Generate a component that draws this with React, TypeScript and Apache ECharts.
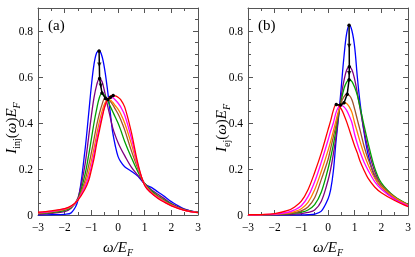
import React, { useEffect, useRef } from 'react';
import * as echarts from 'echarts';

// ---------- data ----------
const xTicks = [-3, -2, -1, 0, 1, 2, 3];
const yTicks = [0, 0.2, 0.4, 0.6, 0.8];

// panel (a): injection spectra
const xA = [-3, -2.5, -2, -1.75, -1.5, -1.25, -1.1, -1, -0.9, -0.8, -0.7, -0.6, -0.5, -0.4, -0.3, -0.2, -0.1, 0, 0.1, 0.25, 0.5, 0.75, 1, 1.25, 1.5, 1.75, 2, 2.5, 3];
const blueA = [0, 0.001, 0.003, 0.01, 0.065, 0.27, 0.44, 0.56, 0.655, 0.705, 0.713, 0.69, 0.633, 0.55, 0.455, 0.36, 0.3, 0.255, 0.232, 0.21, 0.19, 0.168, 0.135, 0.12, 0.1, 0.08, 0.058, 0.026, 0.012];
const purpleA = [0.003, 0.007, 0.015, 0.03, 0.075, 0.21, 0.34, 0.43, 0.51, 0.565, 0.593, 0.58, 0.535, 0.48, 0.43, 0.38, 0.345, 0.315, 0.29, 0.258, 0.208, 0.172, 0.137, 0.11, 0.09, 0.07, 0.05, 0.024, 0.011];
const greenA = [0.006, 0.01, 0.02, 0.033, 0.07, 0.17, 0.26, 0.33, 0.4, 0.46, 0.51, 0.53, 0.52, 0.5, 0.475, 0.45, 0.425, 0.4, 0.37, 0.32, 0.25, 0.187, 0.137, 0.105, 0.083, 0.064, 0.047, 0.022, 0.011];
const brownA = [0.008, 0.013, 0.023, 0.035, 0.068, 0.145, 0.215, 0.27, 0.33, 0.39, 0.44, 0.48, 0.505, 0.505, 0.495, 0.48, 0.46, 0.44, 0.415, 0.37, 0.28, 0.2, 0.135, 0.1, 0.08, 0.061, 0.045, 0.021, 0.011];
const orangeA = [0.009, 0.015, 0.025, 0.037, 0.067, 0.13, 0.185, 0.235, 0.29, 0.35, 0.405, 0.45, 0.485, 0.5, 0.5, 0.49, 0.475, 0.46, 0.44, 0.4, 0.31, 0.208, 0.133, 0.098, 0.077, 0.058, 0.043, 0.02, 0.01];
const magentaA = [0.01, 0.016, 0.027, 0.038, 0.066, 0.12, 0.165, 0.21, 0.265, 0.325, 0.38, 0.43, 0.47, 0.5, 0.512, 0.51, 0.5, 0.487, 0.47, 0.435, 0.335, 0.215, 0.13, 0.096, 0.074, 0.056, 0.041, 0.02, 0.01];
const redA = [0.012, 0.018, 0.028, 0.04, 0.065, 0.11, 0.15, 0.195, 0.245, 0.31, 0.365, 0.42, 0.47, 0.5, 0.515, 0.52, 0.518, 0.512, 0.502, 0.47, 0.36, 0.222, 0.128, 0.095, 0.072, 0.055, 0.04, 0.02, 0.01];
const peakXA = [-0.71, -0.69, -0.6, -0.47, -0.38, -0.28, -0.18];
const peakYA = [0.713, 0.593, 0.53, 0.507, 0.502, 0.512, 0.52];

// panel (b): ejection spectra
const xB = [-3, -2.5, -2, -1.5, -1.25, -1, -0.75, -0.5, -0.25, 0, 0.1, 0.2, 0.3, 0.4, 0.5, 0.6, 0.7, 0.8, 0.9, 1, 1.1, 1.2, 1.35, 1.5, 1.75, 2, 2.5, 3];
const blueB = [0, 0, 0, 0, 0, 0, 0.001, 0.004, 0.017, 0.07, 0.11, 0.19, 0.32, 0.43, 0.56, 0.69, 0.79, 0.825, 0.8, 0.73, 0.6, 0.49, 0.36, 0.265, 0.165, 0.12, 0.07, 0.042];
const purpleB = [0, 0, 0.001, 0.002, 0.004, 0.006, 0.011, 0.022, 0.06, 0.15, 0.2, 0.265, 0.34, 0.435, 0.52, 0.585, 0.63, 0.645, 0.63, 0.59, 0.53, 0.465, 0.37, 0.29, 0.19, 0.13, 0.075, 0.045];
const greenB = [0, 0.001, 0.002, 0.005, 0.008, 0.012, 0.022, 0.045, 0.1, 0.2, 0.25, 0.305, 0.37, 0.44, 0.5, 0.55, 0.578, 0.588, 0.58, 0.555, 0.52, 0.47, 0.39, 0.315, 0.205, 0.14, 0.08, 0.046];
const brownB = [0, 0.001, 0.002, 0.006, 0.01, 0.018, 0.035, 0.075, 0.155, 0.24, 0.29, 0.34, 0.39, 0.445, 0.49, 0.515, 0.525, 0.52, 0.5, 0.46, 0.415, 0.37, 0.3, 0.245, 0.175, 0.13, 0.078, 0.045];
const orangeB = [0, 0.001, 0.003, 0.008, 0.015, 0.027, 0.055, 0.11, 0.19, 0.28, 0.32, 0.365, 0.41, 0.455, 0.478, 0.488, 0.485, 0.47, 0.445, 0.4, 0.36, 0.32, 0.265, 0.22, 0.16, 0.122, 0.075, 0.043];
const magentaB = [0, 0.001, 0.004, 0.012, 0.022, 0.04, 0.08, 0.145, 0.23, 0.325, 0.365, 0.4, 0.445, 0.47, 0.477, 0.47, 0.455, 0.43, 0.4, 0.35, 0.31, 0.275, 0.23, 0.195, 0.145, 0.112, 0.068, 0.04];
const redB = [0.001, 0.002, 0.006, 0.02, 0.035, 0.06, 0.11, 0.185, 0.27, 0.37, 0.41, 0.455, 0.48, 0.475, 0.46, 0.435, 0.405, 0.37, 0.335, 0.3, 0.27, 0.235, 0.195, 0.16, 0.122, 0.097, 0.063, 0.036];
const peakXB = [0.79, 0.8, 0.79, 0.72, 0.6, 0.47, 0.31];
const peakYB = [0.825, 0.645, 0.588, 0.525, 0.488, 0.478, 0.48];

const colors = ['#0000ff', '#800080', '#00a000', '#a0522d', '#ff8000', '#ff00ff', '#ff0000'];

const SERIF = 'Liberation Serif';
const FRAME = '#555555';

function fmtX(v: number) {
  return String(Math.round(v)).replace('-', '\u2212');
}
function fmtY(v: number) {
  if (!yTicks.some((t) => Math.abs(t - v) < 1e-6)) return '';
  return String(Number(v.toFixed(1)));
}

function mkX(gridIndex: number, position: 'bottom' | 'top', label: boolean) {
  return {
    type: 'value',
    gridIndex,
    position,
    min: xTicks[0],
    max: xTicks[xTicks.length - 1],
    interval: 1,
    axisLine: { show: true, onZero: false, lineStyle: { color: FRAME, width: 1 } },
    axisTick: { show: true, inside: true, length: 5, lineStyle: { color: FRAME, width: 1 } },
    minorTick: { show: true, splitNumber: 2, length: 3, lineStyle: { color: FRAME, width: 1 } },
    splitLine: { show: false },
    axisLabel: { show: label, color: '#000', fontFamily: SERIF, fontSize: 11.5, margin: 6, formatter: fmtX },
  };
}
function mkY(gridIndex: number, position: 'left' | 'right', label: boolean) {
  return {
    type: 'value',
    gridIndex,
    position,
    min: 0,
    max: 0.9,
    interval: 0.2,
    axisLine: { show: true, onZero: false, lineStyle: { color: FRAME, width: 1 } },
    axisTick: { show: true, inside: true, length: 5, lineStyle: { color: FRAME, width: 1 } },
    minorTick: { show: true, splitNumber: 4, length: 3, lineStyle: { color: FRAME, width: 1 } },
    splitLine: { show: false },
    axisLabel: { show: label, color: '#000', fontFamily: SERIF, fontSize: 11.5, margin: 5, formatter: fmtY, showMaxLabel: false },
  };
}

function curveSeries(xs: number[], ys: number[], color: string, axis: number) {
  return {
    type: 'line',
    xAxisIndex: axis,
    yAxisIndex: axis,
    data: xs.map((x, i) => [x, ys[i]]),
    showSymbol: false,
    symbol: 'none',
    smooth: 0.35,
    lineStyle: { color, width: 1.3 },
    silent: true,
  };
}

function peakSeries(px: number[], py: number[], axis: number) {
  return [
    {
      type: 'line',
      xAxisIndex: axis,
      yAxisIndex: axis,
      data: px.map((x, i) => [x, py[i]]),
      symbol: 'circle',
      symbolSize: 3.5,
      showSymbol: true,
      itemStyle: { color: '#000' },
      lineStyle: { color: '#000', width: 1.5 },
      z: 5,
      silent: true,
    },
    {
      type: 'scatter',
      xAxisIndex: axis,
      yAxisIndex: axis,
      data: [0, 1].map((i) => [(px[i] + px[i + 1]) / 2, (py[i] + py[i + 1]) / 2]),
      symbol: 'triangle',
      symbolRotate: 180,
      symbolSize: 4.5,
      itemStyle: { color: '#000' },
      z: 6,
      silent: true,
    },
  ];
}

const richMain = {
  i: { fontFamily: SERIF, fontStyle: 'italic', fontSize: 15, lineHeight: 20, fill: '#000' },
  r: { fontFamily: SERIF, fontSize: 15, lineHeight: 20, fill: '#000' },
  s: { fontFamily: SERIF, fontSize: 10, lineHeight: 12, verticalAlign: 'bottom', fill: '#000' },
  si: { fontFamily: SERIF, fontStyle: 'italic', fontSize: 10, lineHeight: 12, verticalAlign: 'bottom', fill: '#000' },
};

export default function App() {
  const ref = useRef<HTMLDivElement>(null);
  useEffect(() => {
    const chart = echarts.init(ref.current!, null, { renderer: 'svg' });
    const seriesA = [blueA, purpleA, greenA, brownA, orangeA, magentaA, redA];
    const seriesB = [blueB, purpleB, greenB, brownB, orangeB, magentaB, redB];
    const option: any = {
      animation: false,
      grid: [
        { left: 38, top: 8, width: 160, height: 207 },
        { left: 248, top: 8, width: 160, height: 207 },
      ],
      xAxis: [mkX(0, 'bottom', true), mkX(0, 'top', false), mkX(1, 'bottom', true), mkX(1, 'top', false)],
      yAxis: [mkY(0, 'left', true), mkY(0, 'right', false), mkY(1, 'left', true), mkY(1, 'right', false)],
      series: [
        ...seriesA.map((d, k) => curveSeries(xA, d, colors[k], 0)),
        ...peakSeries(peakXA, peakYA, 0),
        ...seriesB.map((d, k) => curveSeries(xB, d, colors[k], 2)),
        ...peakSeries(peakXB, peakYB, 2),
      ],
      graphic: [
        { type: 'text', x: 48, y: 25, style: { text: '(a)', fontFamily: SERIF, fontSize: 15, fill: '#000', align: 'left', verticalAlign: 'middle' } },
        { type: 'text', x: 258, y: 25, style: { text: '(b)', fontFamily: SERIF, fontSize: 15, fill: '#000', align: 'left', verticalAlign: 'middle' } },
        { type: 'text', x: 118, y: 247, style: { text: '{i|ω/E}{si|F}', rich: richMain, align: 'center', verticalAlign: 'middle' } },
        { type: 'text', x: 328, y: 247, style: { text: '{i|ω/E}{si|F}', rich: richMain, align: 'center', verticalAlign: 'middle' } },
        { type: 'text', x: 11, y: 128, rotation: Math.PI / 2, style: { text: '{i|I}{s|inj}{r|(}{i|ω}{r|)}{i|E}{si|F}', rich: richMain, align: 'center', verticalAlign: 'middle' } },
        { type: 'text', x: 221, y: 128, rotation: Math.PI / 2, style: { text: '{i|I}{s|ej}{r|(}{i|ω}{r|)}{i|E}{si|F}', rich: richMain, align: 'center', verticalAlign: 'middle' } },
      ],
    };
    chart.setOption(option);
    return () => chart.dispose();
  }, []);
  return <div ref={ref} style={{ position: 'fixed', left: 0, top: 0, width: 415, height: 257 }} />;
}
